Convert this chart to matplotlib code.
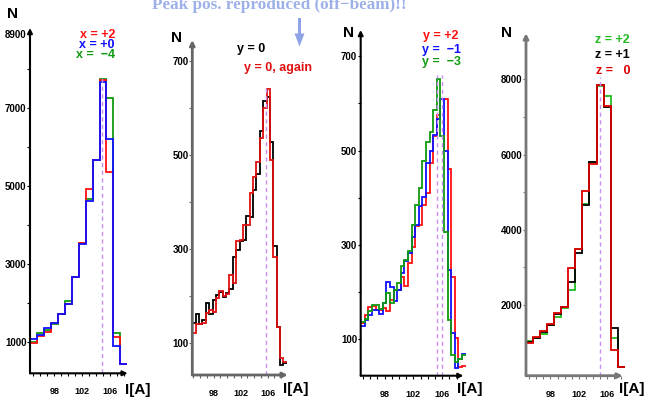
import matplotlib
matplotlib.use('Agg')
import matplotlib.pyplot as plt
import numpy as np
from matplotlib.patches import FancyArrow

plt.rcParams['font.family'] = ['Liberation Sans', 'DejaVu Sans']
plt.rcParams['font.weight'] = 'bold'

# ---- data ----
# panel 1 : 1 A bins, centres 95..108
edges_1 = np.arange(94.5, 109.0, 1.0)
x_plus2 = [960, 1145, 1260, 1490, 1700, 1975, 2670, 3530, 4910, 5660, 7700, 5340, 1130, 430]
x_plus0 = [1060, 1170, 1350, 1490, 1700, 1975, 2650, 3500, 4620, 5660, 7670, 6200, 900, 430]
x_minus4 = [1000, 1230, 1300, 1450, 1720, 2040, 2670, 3520, 4650, 5660, 7730, 7240, 1230, 420]

# panel 2 : 0.5 A bins
edges_2 = 94.85 + 0.5 * np.arange(29)
y0_first = [144, 162, 141, 150, 185, 162, 193, 203, 210, 198, 207, 216, 283, 299,
            318, 320, 371, 368, 426, 460, 551, 615, 624, 528, 308, 135, 54, 58]
y0_again = [123, 141, 141, 144, 165, 172, 167, 196, 212, 200, 206, 245, 228, 317,
            320, 352, 352, 420, 453, 486, 537, 600, 641, 490, 283, 135, 70, 61]

# panel 3 : 0.5 A bins
edges_3 = 94.75 + 0.5 * np.arange(30)
y_plus2 = [133, 151, 167, 171, 162, 162, 165, 160, 183, 204, 204, 232, 213, 261, 296,
           339, 342, 385, 409, 473, 530, 575, 610, 610, 460, 232, 101, 41, 43]
y_minus1 = [128, 140, 151, 162, 162, 152, 176, 220, 211, 180, 203, 240, 265, 283, 317,
            342, 383, 402, 473, 500, 533, 568, 610, 500, 247, 112, 38, 57, 68]
y_minus3 = [136, 142, 160, 172, 172, 163, 176, 198, 176, 204, 218, 255, 268, 287, 342,
            385, 420, 477, 519, 540, 587, 652, 530, 328, 140, 66, 52, 58, 66]

# panel 4 : 1 A bins
edges_4 = np.arange(94.5, 109.0, 1.0)
z_plus2 = [1043, 1110, 1220, 1460, 1690, 1930, 2400, 3500, 4680, 5795, 7820, 7560, 1130, 343]
z_plus1 = [1025, 1130, 1290, 1468, 1750, 1940, 2603, 3375, 4660, 5795, 7850, 7270, 1380, 343]
z_zero = [981, 1158, 1317, 1494, 1778, 1955, 2975, 3480, 5040, 5750, 7850, 7290, 803, 343]

peak_1 = [104.9]
peak_2 = [105.7]
peak_3 = [105.3, 106.0]
peak_4 = [105.05]

W, H = 647, 398
fig = plt.figure(figsize=(W / 100, H / 100), dpi=100)

RED = '#ff1010'
BLUE = '#1010ff'
GREEN = '#109a10'
DASH = '#c88cf5'


def panel(x0, x1, ytop, ybot, xlim, ylim, axcol, yticks, ylabels, xarrow):
    ax = fig.add_axes([x0 / W, 1 - ybot / H, (x1 - x0) / W, (ybot - ytop) / H])
    ax.patch.set_visible(False)
    for s in ax.spines.values():
        s.set_visible(False)
    ax.set_xlim(*xlim)
    ax.set_ylim(*ylim)
    xt = np.arange(95, 109)
    xt = xt[(xt > xlim[0]) & (xt < xarrow)]
    ax.set_xticks(xt)
    ax.set_xticklabels([str(v) if v in (98, 102, 106) else '' for v in xt])
    ax.set_yticks(yticks)
    ax.set_yticklabels(ylabels)
    ax.tick_params(axis='x', direction='out', length=2.5, width=0.8, pad=7.5,
                   labelsize=6.5, color=axcol)
    ax.tick_params(axis='y', direction='out', length=2, width=0.8, pad=0.5,
                   labelsize=7, color=axcol)
    lw = 1.5 if axcol == 'black' else 2.0
    ax.annotate('', xy=(xarrow, ylim[0]), xytext=(xlim[0], ylim[0]),
                arrowprops=dict(arrowstyle='-|>', color=axcol, lw=lw, mutation_scale=7,
                                shrinkA=0, shrinkB=0), annotation_clip=False)
    ax.annotate('', xy=(xlim[0], ylim[1]), xytext=(xlim[0], ylim[0]),
                arrowprops=dict(arrowstyle='-|>', color=axcol, lw=lw, mutation_scale=7,
                                shrinkA=0, shrinkB=0), annotation_clip=False)
    return ax


def hist(ax, edges, vals, col):
    ax.stairs(vals, edges, baseline=None, color=col, lw=1.3)


def peaks(ax, xs, ytop, ybot):
    for xp in xs:
        ax.plot([xp, xp], [ybot, ytop], ls=(0, (3, 2.5)), color=DASH, lw=1)


# panel 1
ax1 = panel(30, 128, 28, 373.3, (94.5, 108.6), (190, 9044), 'black',
            [1000, 2000, 3000, 4000, 5000, 6000, 7000, 8000, 8900],
            ['1000', '', '3000', '', '5000', '', '7000', '', '8900'], 108.55)
peaks(ax1, peak_1, 7840, 190)
hist(ax1, edges_1, x_minus4, GREEN)
hist(ax1, edges_1, x_plus2, RED)
hist(ax1, edges_1, x_plus0, BLUE)

# panel 2
ax2 = panel(192.3, 287.8, 40, 375, (94.85, 109.0), (33, 745), '#666666',
            [100, 200, 300, 400, 500, 600, 700],
            ['100', '', '300', '', '500', '', '700'], 109.0)
peaks(ax2, peak_2, 649, 33)
hist(ax2, edges_2, y0_first, 'black')
hist(ax2, edges_2, y0_again, '#e01010')

# panel 3
ax3 = panel(360.7, 466, 30, 375.7, (94.67, 109.3), (22, 756), 'black',
            [100, 200, 300, 400, 500, 600, 700],
            ['100', '', '300', '', '500', '', '700'], 108.94)
peaks(ax3, peak_3, 661, 22)
hist(ax3, edges_3, y_plus2, RED)
hist(ax3, edges_3, y_minus1, BLUE)
hist(ax3, edges_3, y_minus3, GREEN)

# panel 4
ax4 = panel(526, 625.6, 33.3, 375.7, (94.55, 108.6), (120, 9226), '#777777',
            [2000, 3000, 4000, 5000, 6000, 7000, 8000],
            ['2000', '', '4000', '', '6000', '', '8000'], 108.2)
peaks(ax4, peak_4, 8072, 120)
hist(ax4, edges_4, z_plus2, '#22bb22')
hist(ax4, edges_4, z_plus1, 'black')
hist(ax4, edges_4, z_zero, '#dd0000')

# overlay in pixel coordinates for texts and the arrow
ov = fig.add_axes([0, 0, 1, 1])
ov.set_xlim(0, W)
ov.set_ylim(H, 0)
ov.axis('off')
ov.patch.set_visible(False)

ov.text(279.2, 9.3, 'Peak pos. reproduced (off\u2212beam)!!', family='Liberation Serif',
        fontsize=12.3, color='#9db0e8', ha='center', va='baseline')
ov.add_patch(FancyArrow(299.5, 18, 0, 28.5, width=3, head_width=10, head_length=13,
                        length_includes_head=True, color='#8fa4e6', lw=0))

for xx, yy in [(12, 14), (176, 37.5), (348, 33), (507, 33)]:
    ov.text(xx, yy, 'N', fontsize=11, ha='center', va='center')
for xx, yy in [(138, 390), (296, 389.5), (469.5, 389), (632, 389)]:
    ov.text(xx, yy, 'I[A]', fontsize=11, ha='center', va='center')

fs = 9
ov.text(97.2, 35, 'x = +2', color=RED, fontsize=fs, ha='center', va='center')
ov.text(97.0, 45.5, 'x = +0', color=BLUE, fontsize=fs, ha='center', va='center')
ov.text(95.5, 55.5, 'x =  \u22124', color=GREEN, fontsize=fs, ha='center', va='center')

ov.text(251, 49, 'y = 0', color='black', fontsize=fs, ha='center', va='center')
ov.text(278, 68, 'y = 0, again', color='#e01010', fontsize=fs, ha='center', va='center')

ov.text(440.8, 36, 'y = +2', color=RED, fontsize=fs, ha='center', va='center')
ov.text(441, 49.5, 'y =  \u22121', color=BLUE, fontsize=fs, ha='center', va='center')
ov.text(441, 61.5, 'y =  \u22123', color=GREEN, fontsize=fs, ha='center', va='center')

ov.text(612.8, 40, 'z = +2', color='#22bb22', fontsize=fs, ha='center', va='center')
ov.text(612.8, 54.5, 'z = +1', color='black', fontsize=fs, ha='center', va='center')
ov.text(612.8, 71, 'z =   0', color='#dd0000', fontsize=fs, ha='center', va='center')

fig.savefig('out.png', dpi=100)
